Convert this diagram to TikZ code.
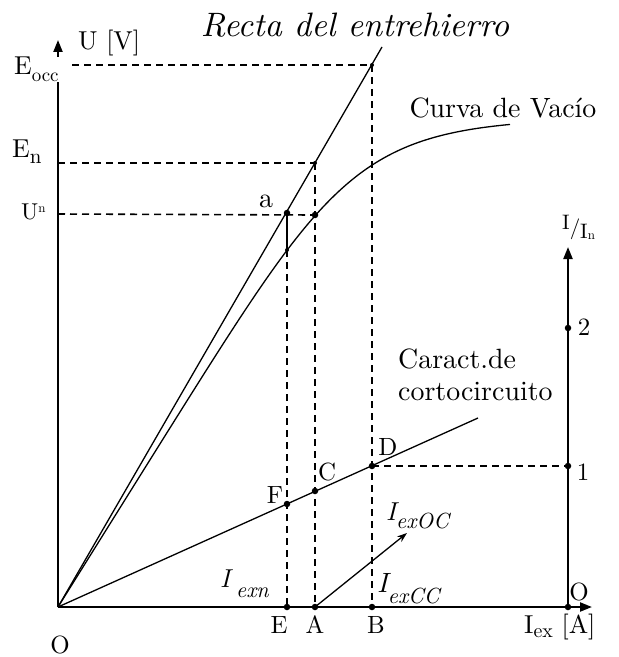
\documentclass[tikz,border=0pt]{standalone}
\usepackage{fontspec}
\setmainfont{lmroman10-regular.otf}[ItalicFont=lmroman10-italic.otf]
\usetikzlibrary{arrows.meta}
\newcommand{\fs}[1]{\fontsize{#1}{#1}\selectfont}
\begin{document}
\begin{tikzpicture}[x=1bp,y=-1bp,
  ax/.style={line width=2.2bp,-{Triangle[length=12bp,width=9bp]}},
  thinl/.style={line width=1.3bp},
  dsh/.style={line width=1.6bp,dash pattern=on 7bp off 5bp},
  dot/.style={circle,fill,inner sep=0,minimum size=6.5bp},
  sdot/.style={circle,fill,inner sep=0,minimum size=4bp},
  lab/.style={inner sep=0,font=\fs{25}},
  blab/.style={inner sep=0,font=\fs{28}}]
\useasboundingbox (0,0) rectangle (619,657);
% axes
\coordinate (O) at (58,607);
\coordinate (Utip) at (58,40);
\coordinate (Ugap) at (58,56);
\coordinate (Xtip) at (592,607);
\coordinate (R0) at (568,607);
\coordinate (Rtip) at (568,247);
\draw[line width=2.2bp] (O) -- (Ugap);
\draw[ax] (O) -- (Xtip);
\draw[ax] (R0) -- (Rtip);
% key points
\coordinate (Gend) at (382,47);
\coordinate (Pocc) at (372,65);
\coordinate (Pn) at (315,163);
\coordinate (Pa) at (287,213);
\coordinate (Pun) at (315,215);
\coordinate (Pac) at (287,250);
\coordinate (Yocc) at (72,65);
\coordinate (Yn) at (58,163);
\coordinate (Yun) at (58,214);
\coordinate (E) at (287,607);
\coordinate (A) at (315,607);
\coordinate (B) at (372,607);
\coordinate (F) at (287,504);
\coordinate (C) at (315,491);
\coordinate (D) at (372,466);
\coordinate (SCend) at (478,418);
\coordinate (R1) at (568,466);
\coordinate (R2) at (568,328);
\coordinate (Atip) at (407,533);
% dashed guides
\draw[dsh] (Yocc) -- (Pocc);
\draw[dsh] (Yn) -- (Pn);
\draw[dsh] (Yun) -- (Pun);
\draw[dsh] (Pocc) -- (B);
\draw[dsh] (Pn) -- (A);
\draw[dsh] (Pac) -- (E);
\draw[dsh] (D) -- (R1);
% curves
\draw[thinl] (O) -- (Gend);
\draw[thinl] plot[domain=0:452,samples=90,smooth] ({58+\x},{607-1.6*\x/((1+(1.6*\x/490)^6)^(1/6))});
\draw[thinl] (O) -- (SCend);
\draw[thinl] (Pa) -- (Pac);
\draw[thinl,-{Stealth[length=10bp,width=7bp]}] (A) -- (Atip);
% dots
\foreach \p in {Pa,Pun,F,C,D,E,A,B,R0,R1,R2} \node[dot] at (\p) {};
\foreach \p in {Pn,Pocc,Pac} \node[sdot] at (\p) {};
% labels
\node[inner sep=0,anchor=base,font=\fs{34}\itshape] (tRecta) at (355,37) {Recta del entrehierro};
\node[inner sep=0,anchor=base west,font=\fs{26}] (tU) at (78,50) {U [V]};
\node[inner sep=0,anchor=base west,fill=white] (tEocc) at (14,75) {\fs{26}E\raisebox{-7bp}{\fs{19}occ}};
\draw[ax] (Ugap) -- (Utip);
\node[inner sep=0,anchor=base west] (tEn) at (12,157) {\fs{26}E\raisebox{-6bp}{\fs{21}n}};
\node[inner sep=0,anchor=base west] (tUn) at (21,219) {\fs{23}U\raisebox{7bp}{\fs{13}n}};
\node[blab,anchor=base] (ta) at (266,207) {a};
\node[blab,anchor=base] (tCurva) at (503,118) {Curva de Vacío};
\node[blab,anchor=base west] (tCar1) at (398,368) {Caract.de};
\node[blab,anchor=base west] (tCar2) at (398,400) {cortocircuito};
\node[lab,anchor=base] (tD) at (388,455) {D};
\node[lab,anchor=base] (tC) at (327,480) {C};
\node[lab,anchor=base] (tF) at (275,503) {F};
\node[inner sep=0,anchor=base west] (tIOC) at (386,520) {{\fs{26}\itshape I}\raisebox{-8bp}{\fs{22}\itshape exOC}};
\node[inner sep=0,anchor=base west] (tICC) at (377,592) {{\fs{28}\itshape I}\raisebox{-11bp}{\fs{22}\itshape exCC}};
\node[inner sep=0,anchor=base west] (tIn) at (220,587) {{\fs{26}\itshape I}\hspace{6bp}\raisebox{-10bp}{\fs{22}\itshape exn}};
\node[lab,anchor=base] (tE) at (279,633) {E};
\node[lab,anchor=base] (tA) at (315,633) {A};
\node[lab,anchor=base] (tB) at (376,633) {B};
\node[lab,anchor=base] (tO) at (60,653) {O};
\node[lab,anchor=base] (tO2) at (579,600) {O};
\node[lab,anchor=base] (t1) at (583,480) {1};
\node[lab,anchor=base] (t2) at (584,335) {2};
\node[inner sep=0,anchor=base west] (tIex) at (524,633) {\fs{26}I\raisebox{-4bp}{\fs{20}ex} [A]};
\node[inner sep=0,anchor=base west] (tIIn) at (562,229) {\fs{21}I\kern0bp\raisebox{-5bp}{/}\raisebox{-9bp}{I\raisebox{-1bp}{\fs{13}n}}};
\end{tikzpicture}
\end{document}
